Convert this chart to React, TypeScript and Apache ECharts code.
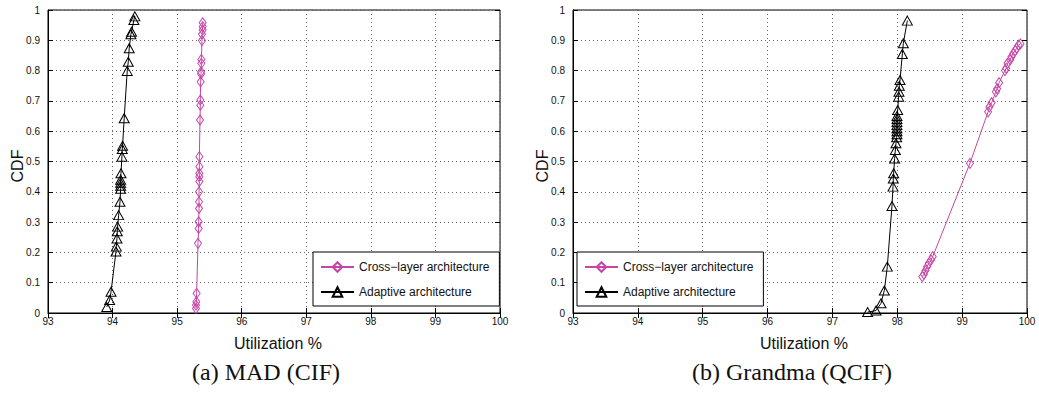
import React, { useEffect, useRef } from "react";
import * as echarts from "echarts";

const xTicks = [93, 94, 95, 96, 97, 98, 99, 100];
const yTicks = [0, 0.1, 0.2, 0.3, 0.4, 0.5, 0.6, 0.7, 0.8, 0.9, 1];

const seriesNames = ["Cross−layer architecture", "Adaptive architecture"];

// (a) MAD (CIF)
const madAdaptiveX = [93.91, 93.955, 93.976, 94.053, 94.058, 94.068, 94.073, 94.078, 94.094, 94.115, 94.125, 94.125, 94.125, 94.125, 94.13, 94.145, 94.15, 94.155, 94.18, 94.227, 94.243, 94.258, 94.284, 94.294, 94.33, 94.345];
const madAdaptiveY = [0.02, 0.043, 0.07, 0.203, 0.219, 0.246, 0.27, 0.285, 0.323, 0.367, 0.41, 0.42, 0.43, 0.44, 0.461, 0.516, 0.541, 0.552, 0.643, 0.799, 0.829, 0.874, 0.92, 0.928, 0.967, 0.979];
const madCrossX = [95.292, 95.292, 95.297, 95.302, 95.323, 95.333, 95.333, 95.339, 95.339, 95.339, 95.344, 95.344, 95.344, 95.344, 95.344, 95.354, 95.359, 95.359, 95.364, 95.37, 95.37, 95.375, 95.375, 95.385, 95.385, 95.395, 95.395, 95.395];
const madCrossY = [0.015, 0.026, 0.037, 0.065, 0.23, 0.279, 0.301, 0.345, 0.367, 0.4, 0.434, 0.45, 0.461, 0.483, 0.516, 0.637, 0.686, 0.703, 0.763, 0.789, 0.796, 0.824, 0.837, 0.899, 0.92, 0.934, 0.945, 0.958];

// (b) Grandma (QCIF)
const grandmaAdaptiveX = [97.543, 97.672, 97.749, 97.8, 97.846, 97.918, 97.934, 97.939, 97.944, 97.959, 97.97, 97.98, 97.99, 97.995, 97.995, 97.995, 97.995, 97.995, 97.995, 97.995, 98.006, 98.021, 98.026, 98.031, 98.042, 98.078, 98.093, 98.155];
const grandmaAdaptiveY = [0.003, 0.008, 0.032, 0.074, 0.153, 0.353, 0.417, 0.444, 0.461, 0.51, 0.538, 0.56, 0.58, 0.59, 0.6, 0.61, 0.62, 0.63, 0.64, 0.65, 0.67, 0.714, 0.73, 0.75, 0.769, 0.855, 0.89, 0.965];
const grandmaCrossX = [98.386, 98.41, 98.435, 98.46, 98.485, 98.52, 98.546, 99.12, 99.4, 99.42, 99.455, 99.52, 99.54, 99.57, 99.66, 99.68, 99.7, 99.74, 99.76, 99.79, 99.82, 99.84, 99.87, 99.9];
const grandmaCrossY = [0.12, 0.128, 0.14, 0.153, 0.164, 0.175, 0.186, 0.494, 0.664, 0.68, 0.694, 0.73, 0.74, 0.76, 0.8, 0.808, 0.824, 0.835, 0.846, 0.857, 0.866, 0.874, 0.884, 0.888];

const xLabel = "Utilization %";
const yLabel = "CDF";
const captions = ["(a) MAD (CIF)", "(b) Grandma (QCIF)"];

const MAGENTA = "#c546a6";
const SANS = "Liberation Sans, Arial, sans-serif";

const zip = (xs: number[], ys: number[]) => xs.map((x, i) => [x, ys[i]]);

export default function App() {
  const ref = useRef<HTMLDivElement>(null);
  useEffect(() => {
    if (!ref.current) return;
    const chart = echarts.init(ref.current, null, { renderer: "svg" });
    const grids = [
      { left: 48, top: 10, width: 452, height: 303 },
      { left: 573, top: 10, width: 454, height: 303 },
    ];
    const xAxes: any[] = [];
    const yAxes: any[] = [];
    grids.forEach((_, gi) => {
      const baseX = {
        type: "value",
        gridIndex: gi,
        min: xTicks[0],
        max: xTicks[xTicks.length - 1],
        interval: 1,
      };
      xAxes.push({
        ...baseX,
        position: "bottom",
        axisLine: { show: true, lineStyle: { color: "#000", width: 1 } },
        axisTick: { show: true, inside: true, length: 5, lineStyle: { color: "#000" } },
        axisLabel: { show: true, margin: 3, fontSize: 10, color: "#111", fontFamily: SANS },
        splitLine: { show: true, lineStyle: { color: "#666", type: [1, 3], width: 1 } },
      });
      xAxes.push({
        ...baseX,
        position: "top",
        axisLine: { show: false },
        axisTick: { show: true, inside: true, length: 5, lineStyle: { color: "#000" } },
        axisLabel: { show: false },
        splitLine: { show: false },
      });
      const baseY = {
        type: "value",
        gridIndex: gi,
        min: yTicks[0],
        max: yTicks[yTicks.length - 1],
        interval: 0.1,
      };
      yAxes.push({
        ...baseY,
        position: "left",
        axisLine: { show: true, lineStyle: { color: "#000", width: 1 } },
        axisTick: { show: true, inside: true, length: 5, lineStyle: { color: "#000" } },
        axisLabel: { show: true, margin: 8, fontSize: 10, color: "#111", fontFamily: SANS },
        splitLine: { show: true, lineStyle: { color: "#666", type: [1, 3], width: 1 } },
      });
      yAxes.push({
        ...baseY,
        position: "right",
        axisLine: { show: false },
        axisTick: { show: true, inside: true, length: 5, lineStyle: { color: "#000" } },
        axisLabel: { show: false },
        splitLine: { show: false },
      });
    });

    const mkSeries = (name: string, gi: number, data: number[][], cross: boolean) => ({
      name,
      type: "line",
      xAxisIndex: gi * 2,
      yAxisIndex: gi * 2,
      data,
      symbol: cross ? "diamond" : "triangle",
      symbolSize: cross ? [7, 10] : [10, 9],
      showAllSymbol: true,
      lineStyle: { color: cross ? MAGENTA : "#000", width: 1 },
      itemStyle: { color: "rgba(255,255,255,0)", borderColor: cross ? MAGENTA : "#000", borderWidth: 1 },
      z: cross ? 3 : 2,
    });

    const mkLegend = (left: number) => ({
      left,
      top: 252,
      orient: "vertical",
      data: seriesNames,
      itemWidth: 33,
      itemHeight: 12,
      itemGap: 13,
      padding: [9, 10, 8, 7],
      borderColor: "#000",
      borderWidth: 1,
      borderRadius: 0,
      backgroundColor: "#fff",
      selectedMode: false,
      textStyle: { fontSize: 12, color: "#111", fontFamily: SANS },
      z: 10,
    });

    const centerX = (g: any) => g.left + g.width / 2;

    chart.setOption({
      animation: false,
      backgroundColor: "#fff",
      grid: grids.map((g) => ({ ...g, show: true, borderColor: "#000", borderWidth: 1, backgroundColor: "transparent" })),
      xAxis: xAxes,
      yAxis: yAxes,
      legend: [mkLegend(313), mkLegend(577)],
      series: [
        mkSeries(seriesNames[0], 0, zip(madCrossX, madCrossY), true),
        mkSeries(seriesNames[1], 0, zip(madAdaptiveX, madAdaptiveY), false),
        mkSeries(seriesNames[0], 1, zip(grandmaCrossX, grandmaCrossY), true),
        mkSeries(seriesNames[1], 1, zip(grandmaAdaptiveX, grandmaAdaptiveY), false),
      ],
      graphic: [
        ...grids.map((g, i) => ({
          type: "text",
          x: i === 0 ? 17 : 542,
          y: 166,
          rotation: Math.PI / 2,
          style: { text: yLabel, fontSize: 16, fill: "#111", fontFamily: SANS, textAlign: "center", textVerticalAlign: "middle" },
        })),
        ...grids.map((g) => ({
          type: "text",
          x: centerX(g) + 4,
          y: 343,
          style: { text: xLabel, fontSize: 16, fill: "#111", fontFamily: SANS, textAlign: "center", textVerticalAlign: "middle" },
        })),
        ...grids.map((g, i) => ({
          type: "text",
          x: centerX(g) - 8,
          y: 372,
          style: { text: captions[i], fontSize: 24, fill: "#111", fontFamily: "Liberation Serif, serif", textAlign: "center", textVerticalAlign: "middle" },
        })),
      ],
    });
    return () => chart.dispose();
  }, []);
  return <div ref={ref} style={{ position: "fixed", left: 0, top: 0, width: 1039, height: 394 }} />;
}
